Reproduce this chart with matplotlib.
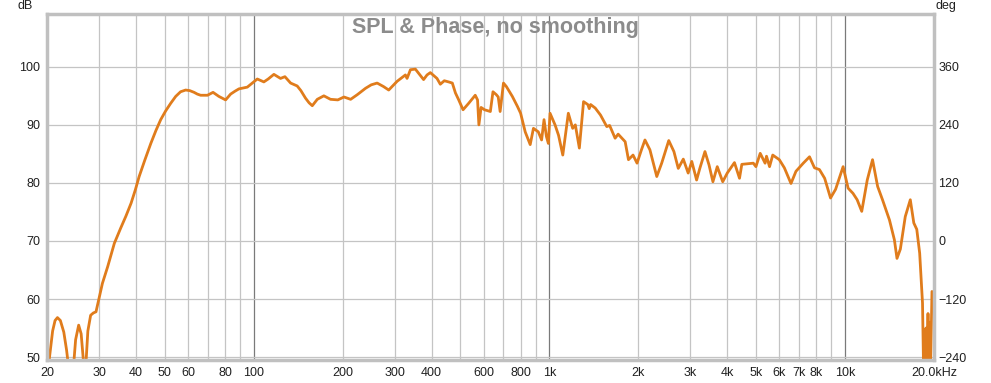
import matplotlib
matplotlib.use('Agg')
import matplotlib.pyplot as plt

plt.rcParams['font.family'] = ['Liberation Sans', 'DejaVu Sans']

# SPL trace (Hz, dB)
freq = [20.0, 20.4, 20.9, 21.3, 21.7, 22.2, 22.8, 23.3, 23.7, 24.1,
        24.6, 25.0, 25.6, 26.1, 26.5, 26.8, 27.1, 27.5, 28.1, 28.7,
        29.3, 29.9, 30.8, 32.1, 33.8, 35.5, 37.0, 38.5, 39.8, 41.0,
        42.9, 44.9, 46.7, 48.5, 50.4, 52.4, 54.5, 56.6, 58.9, 60.8,
        62.9, 64.5, 66.2, 69.8, 72.9, 76.3, 80.4, 83.6, 86.5, 89.2,
        95.2, 99.0, 102.9, 108.3, 112.0, 117.1, 123.3, 127.6, 133.4, 140.4,
        144.5, 149.8, 154.0, 157.9, 164.2, 172.8, 182.0, 192.7, 202.1, 212.9,
        224.2, 239.1, 250.0, 261.7, 275.0, 286.4, 305.7, 326.1, 330.3, 339.2,
        352.5, 361.5, 375.7, 386.0, 396.0, 417.1, 428.0, 441.5, 456.5, 470.0,
        481.5, 494.0, 511.0, 533.5, 561.8, 572.0, 578.0, 588.0, 604.0, 632.0,
        645.0, 662.0, 672.0, 682.0, 700.0, 716.0, 750.0, 780.0, 800.0, 829.0,
        862.0, 884.0, 918.0, 942.0, 960.0, 978.0, 993.0, 1006.0, 1046.0, 1075.0,
        1111.0, 1160.0, 1200.0, 1225.0, 1264.0, 1306.0, 1350.0, 1365.0, 1380.0, 1430.0,
        1490.0, 1565.0, 1600.0, 1670.0, 1710.0, 1806.0, 1853.0, 1920.0, 1981.0, 2050.0,
        2107.0, 2190.0, 2310.0, 2400.0, 2536.0, 2640.0, 2731.0, 2840.0, 2950.0, 3034.0,
        3150.0, 3230.0, 3362.0, 3470.0, 3577.0, 3700.0, 3861.0, 4000.0, 4230.0, 4400.0,
        4480.0, 4900.0, 5000.0, 5170.0, 5370.0, 5430.0, 5560.0, 5700.0, 6000.0, 6240.0,
        6570.0, 6830.0, 7230.0, 7590.0, 7890.0, 8200.0, 8540.0, 8940.0, 9300.0, 9860.0,
        10250.0, 10650.0, 11000.0, 11400.0, 11900.0, 12400.0, 12900.0, 13400.0, 14150.0, 14700.0,
        15000.0, 15400.0, 16000.0, 16640.0, 17100.0, 17500.0, 17900.0, 18300.0, 18450.0, 18550.0,
        18650.0, 18800.0, 18950.0, 19100.0, 19200.0, 19350.0, 19450.0, 19550.0, 19700.0, 20000.0]
spl = [45.0, 50.0, 54.5, 56.3, 56.8, 56.3, 54.3, 51.2, 48.0, 44.0,
       48.5, 53.0, 55.5, 54.0, 50.0, 46.0, 49.0, 54.5, 57.2, 57.6,
       57.8, 59.8, 62.7, 65.6, 69.6, 72.2, 74.3, 76.5, 78.8, 81.1,
       84.0, 86.8, 89.0, 90.9, 92.4, 93.7, 94.9, 95.7, 96.0, 95.9,
       95.6, 95.3, 95.1, 95.1, 95.6, 94.9, 94.3, 95.3, 95.8, 96.2,
       96.5, 97.2, 97.9, 97.4, 97.9, 98.7, 98.0, 98.3, 97.2, 96.7,
       95.9, 94.6, 93.8, 93.3, 94.4, 95.0, 94.4, 94.3, 94.8, 94.4,
       95.2, 96.3, 96.9, 97.2, 96.6, 96.0, 97.5, 98.6, 98.0, 99.5,
       99.6, 98.9, 97.8, 98.6, 99.0, 98.0, 97.0, 97.6, 97.4, 97.2,
       95.5, 94.3, 92.6, 93.7, 95.1, 94.3, 90.0, 93.0, 92.6, 92.3,
       95.7, 95.2, 94.8, 92.3, 97.2, 96.6, 94.9, 93.2, 92.0, 88.8,
       86.6, 89.4, 88.8, 87.4, 90.9, 88.0, 86.8, 92.0, 90.0, 88.2,
       84.8, 92.0, 89.4, 90.0, 86.0, 94.0, 93.5, 92.8, 93.5, 92.9,
       91.7, 89.7, 89.9, 87.7, 88.4, 87.1, 84.0, 84.8, 83.4, 85.7,
       87.4, 85.7, 81.1, 83.4, 87.3, 85.4, 82.5, 84.1, 81.7, 83.7,
       80.5, 82.5, 85.4, 83.1, 80.2, 82.8, 80.2, 81.7, 83.5, 80.8,
       83.2, 83.4, 82.8, 85.1, 83.4, 84.6, 82.8, 84.8, 84.0, 82.6,
       79.9, 82.0, 83.4, 84.5, 82.6, 82.3, 80.8, 77.4, 78.9, 82.8,
       79.1, 78.2, 77.1, 75.1, 80.5, 84.0, 79.4, 77.1, 73.6, 70.2,
       67.0, 68.6, 74.2, 77.1, 73.1, 72.0, 67.9, 59.3, 48.0, 52.0,
       47.0, 55.0, 48.0, 57.5, 49.0, 56.0, 47.0, 52.0, 61.3, 61.0]

x_ticks = [20, 30, 40, 50, 60, 70, 80, 90, 100, 200, 300, 400, 500, 600, 700, 800, 900,
           1000, 2000, 3000, 4000, 5000, 6000, 7000, 8000, 9000, 10000, 20000]
x_labels = ['20', '30', '40', '50', '60', '', '80', '', '100', '200', '300', '400', '',
            '600', '', '800', '', '1k', '2k', '3k', '4k', '5k', '6k', '7k', '8k', '',
            '10k', '20.0kHz']
db_ticks = [50, 60, 70, 80, 90, 100]
deg_ticks = [-240, -120, 0, 120, 240, 360]

fig = plt.figure(figsize=(9.91, 3.83), dpi=100)
ax = fig.add_axes([0.0474, 0.0601, 0.895, 0.9034])
ax.set_xscale('log')
ax.set_xlim(20, 20000)
ax.set_ylim(49.5, 109.1)

ax.set_xticks(x_ticks)
ax.set_xticklabels(x_labels)
ax.xaxis.set_minor_locator(matplotlib.ticker.NullLocator())
ax.set_yticks(db_ticks)
ax.grid(True, color='#c4c4c4', linewidth=0.9)
for f, gl in zip(x_ticks, ax.get_xgridlines()):
    if f in (100, 1000, 10000):
        gl.set_color('#7a7a7a')
ax.tick_params(length=0, labelsize=9, colors='#202020', pad=5)

for sp in ax.spines.values():
    sp.set_color('#c0c0c0')
    sp.set_linewidth(2.5)

ax.plot(freq, spl, color='#e07c1c', linewidth=2.0, solid_joinstyle='round')

# phase axis, shares the scale (deg = (dB - 70) * 12)
ax2 = ax.twinx()
ax2.set_ylim((49.5 - 70) * 12, (109.1 - 70) * 12)
ax2.set_yticks(deg_ticks)
ax2.tick_params(length=0, labelsize=9, colors='#202020', pad=3)
for sp in ax2.spines.values():
    sp.set_visible(False)

fig.text(495 / 991, 1 - 27 / 383, 'SPL & Phase, no smoothing',
         ha='center', va='center', fontsize=15.5, fontweight='bold', color='#8c8c8c')
fig.text(18 / 991, 1 - 6 / 383, 'dB', ha='left', va='center', fontsize=9, color='#202020')
fig.text(936 / 991, 1 - 6 / 383, 'deg', ha='left', va='center', fontsize=9, color='#202020')

fig.savefig('out.png', dpi=100)
